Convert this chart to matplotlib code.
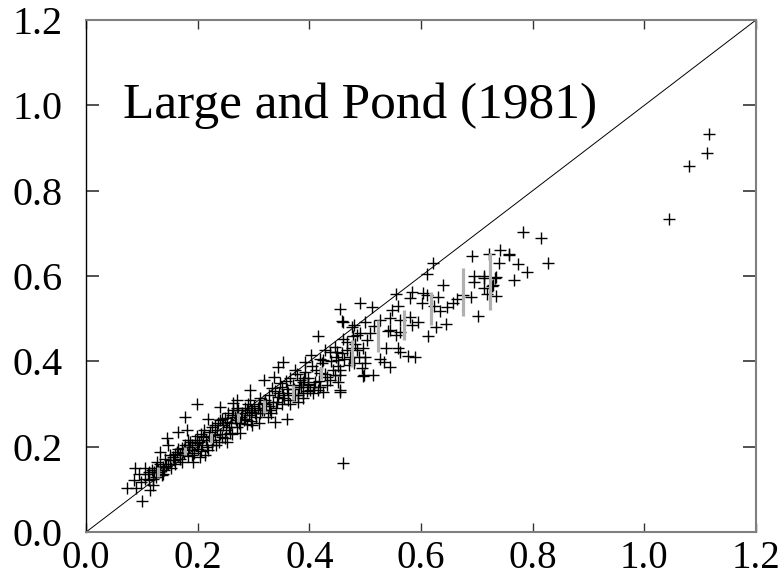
import matplotlib
matplotlib.use("Agg")
import matplotlib.pyplot as plt

plt.rcParams['font.family'] = ['Liberation Serif', 'DejaVu Serif']

# --- scatter points ---
pts_x = [
    0.073, 0.085, 0.088, 0.090, 0.098, 0.100, 0.106, 0.112, 0.115, 0.119, 0.121, 0.125, 0.127, 0.133,
    0.136, 0.138, 0.145, 0.147, 0.147, 0.150, 0.159, 0.165, 0.171, 0.177, 0.180, 0.183, 0.189, 0.189,
    0.192, 0.198, 0.198, 0.204, 0.210, 0.213, 0.219, 0.219, 0.222, 0.228, 0.231, 0.240, 0.240, 0.243,
    0.252, 0.255, 0.258, 0.264, 0.270, 0.276, 0.282, 0.297, 0.094,
    0.110, 0.118, 0.125, 0.130, 0.140, 0.142, 0.155, 0.160, 0.165, 0.168, 0.175, 0.178, 0.185, 0.195,
    0.200, 0.205, 0.208, 0.215, 0.225, 0.230, 0.235, 0.238, 0.245, 0.248, 0.250, 0.260, 0.262, 0.268,
    0.272, 0.278, 0.285, 0.288, 0.292, 0.295, 0.300, 0.305, 0.310, 0.315, 0.320, 0.325, 0.328, 0.335,
    0.340, 0.345, 0.350, 0.355, 0.360, 0.365, 0.370, 0.375, 0.380, 0.385, 0.390, 0.395,
    0.460, 0.479, 0.416, 0.485, 0.353, 0.344, 0.403, 0.428, 0.449, 0.392, 0.419, 0.318, 0.336, 0.294,
    0.374, 0.455, 0.455, 0.437, 0.407, 0.380, 0.362, 0.344, 0.333, 0.359, 0.339, 0.309, 0.276, 0.398,
    0.419, 0.383, 0.350, 0.318, 0.294, 0.270, 0.264, 0.288, 0.312, 0.330, 0.497, 0.496, 0.499,
    0.692, 0.621, 0.610, 0.640, 0.664, 0.658, 0.702, 0.631, 0.610, 0.601, 0.624, 0.634, 0.646, 0.644,
    0.627, 0.613, 0.556, 0.583, 0.580, 0.604, 0.491, 0.454, 0.512, 0.548, 0.558, 0.459, 0.476, 0.527,
    0.545, 0.562, 0.580, 0.595, 0.583, 0.545, 0.556, 0.562, 0.540, 0.516, 0.500, 0.461, 0.491, 0.509,
    0.503, 0.537, 0.559, 0.562, 0.577, 0.589, 0.533, 0.545, 0.527, 0.496, 0.514, 0.476, 0.485, 0.488,
    0.500, 0.479, 0.494, 0.467, 0.446, 0.437, 0.425, 0.452, 0.455, 0.446, 0.431, 0.452, 0.455, 0.419,
    0.410, 0.398, 0.389, 0.401, 0.416, 0.425, 0.389, 0.471,
    0.694, 0.713, 0.734, 0.695, 0.728, 0.676, 0.689, 0.758, 0.783, 0.814, 0.827, 0.742, 0.758, 0.721,
    0.740, 0.774, 0.789, 0.767, 0.713, 0.733, 0.712, 0.727, 0.718, 0.734,
    1.116, 1.113, 1.080, 1.045, 0.460,
    # dense core
    0.105, 0.112, 0.120, 0.128, 0.132, 0.138, 0.143, 0.150, 0.152, 0.157, 0.162, 0.168, 0.172, 0.176,
    0.182, 0.186, 0.190, 0.194, 0.198,
    0.202, 0.206, 0.212, 0.216, 0.220, 0.226, 0.232, 0.236, 0.240, 0.244, 0.248, 0.252, 0.256, 0.262,
    0.266, 0.270, 0.274, 0.280, 0.284, 0.290, 0.296, 0.298,
    0.302, 0.308, 0.312, 0.318, 0.322, 0.328, 0.332, 0.338, 0.342, 0.348, 0.352, 0.358, 0.362, 0.366,
    0.372, 0.378, 0.382, 0.388, 0.392, 0.398, 0.404, 0.408, 0.412, 0.418, 0.422, 0.428, 0.432, 0.438,
    0.442, 0.448, 0.452, 0.458, 0.462, 0.468, 0.472, 0.478, 0.482,
]
pts_y = [
    0.102, 0.122, 0.149, 0.102, 0.118, 0.073, 0.149, 0.122, 0.098, 0.110, 0.141, 0.130, 0.165, 0.188,
    0.134, 0.153, 0.220, 0.204, 0.160, 0.169, 0.184, 0.235, 0.196, 0.270, 0.239, 0.216, 0.192, 0.180,
    0.165, 0.300, 0.208, 0.176, 0.223, 0.180, 0.192, 0.266, 0.235, 0.216, 0.251, 0.262, 0.294, 0.223,
    0.212, 0.278, 0.231, 0.302, 0.247, 0.231, 0.262, 0.286, 0.135,
    0.135, 0.145, 0.150, 0.140, 0.145, 0.170, 0.175, 0.160, 0.195, 0.170, 0.185, 0.205, 0.200, 0.215,
    0.195, 0.230, 0.205, 0.215, 0.205, 0.228, 0.240, 0.210, 0.250, 0.268, 0.240, 0.255, 0.275, 0.262,
    0.285, 0.270, 0.290, 0.252, 0.275, 0.260, 0.295, 0.270, 0.300, 0.285, 0.310, 0.270, 0.295, 0.305,
    0.290, 0.325, 0.300, 0.315, 0.335, 0.300, 0.345, 0.320, 0.305, 0.340, 0.360, 0.330,
    0.493, 0.485, 0.460, 0.462, 0.399, 0.387, 0.415, 0.427, 0.423, 0.399, 0.405, 0.356, 0.364, 0.333,
    0.380, 0.368, 0.333, 0.356, 0.325, 0.321, 0.309, 0.317, 0.337, 0.266, 0.258, 0.255, 0.255, 0.344,
    0.341, 0.356, 0.341, 0.302, 0.309, 0.309, 0.286, 0.286, 0.278, 0.286, 0.368, 0.431, 0.410,
    0.647, 0.630, 0.605, 0.580, 0.545, 0.536, 0.507, 0.551, 0.555, 0.536, 0.530, 0.518, 0.528, 0.487,
    0.480, 0.460, 0.557, 0.563, 0.548, 0.559, 0.537, 0.523, 0.527, 0.520, 0.530, 0.495, 0.480, 0.497,
    0.501, 0.497, 0.505, 0.493, 0.485, 0.473, 0.462, 0.469, 0.472, 0.483, 0.493, 0.452, 0.466, 0.466,
    0.450, 0.431, 0.431, 0.423, 0.412, 0.411, 0.399, 0.387, 0.405, 0.366, 0.368, 0.431, 0.427, 0.411,
    0.395, 0.395, 0.384, 0.427, 0.434, 0.423, 0.403, 0.403, 0.380, 0.368, 0.364, 0.352, 0.329, 0.372,
    0.352, 0.348, 0.352, 0.333, 0.333, 0.329, 0.325, 0.392,
    0.600, 0.600, 0.598, 0.585, 0.580, 0.555, 0.551, 0.649, 0.704, 0.690, 0.631, 0.661, 0.651, 0.652,
    0.630, 0.627, 0.610, 0.591, 0.596, 0.596, 0.573, 0.577, 0.558, 0.554,
    0.932, 0.888, 0.858, 0.734, 0.162,
    # dense core
    0.125, 0.140, 0.125, 0.145, 0.160, 0.135, 0.155, 0.180, 0.150, 0.168, 0.188, 0.180, 0.165, 0.195,
    0.178, 0.210, 0.205, 0.185, 0.225,
    0.210, 0.190, 0.240, 0.200, 0.225, 0.245, 0.205, 0.255, 0.230, 0.265, 0.220, 0.258, 0.245, 0.230,
    0.270, 0.290, 0.255, 0.280, 0.265, 0.300, 0.282, 0.250,
    0.280, 0.290, 0.315, 0.285, 0.300, 0.320, 0.278, 0.330, 0.305, 0.350, 0.320, 0.355, 0.325, 0.360,
    0.335, 0.370, 0.340, 0.315, 0.375, 0.360, 0.390, 0.340, 0.380, 0.355, 0.395, 0.370, 0.345, 0.400,
    0.380, 0.410, 0.390, 0.420, 0.405, 0.445, 0.410, 0.460, 0.440,
]

# --- grey bars (binned spread) ---
bar_x = [0.129, 0.177, 0.224, 0.272, 0.319, 0.370, 0.421, 0.476, 0.523, 0.570, 0.618, 0.675, 0.724]
bar_lo = [0.129, 0.180, 0.209, 0.258, 0.279, 0.310, 0.356, 0.387, 0.422, 0.450, 0.485, 0.506, 0.520]
bar_hi = [0.152, 0.199, 0.232, 0.279, 0.309, 0.345, 0.387, 0.450, 0.497, 0.520, 0.562, 0.619, 0.654]

ticks = [0.0, 0.2, 0.4, 0.6, 0.8, 1.0, 1.2]
tick_labels = ["0.0", "0.2", "0.4", "0.6", "0.8", "1.0", "1.2"]

fig = plt.figure(figsize=(7.83, 5.81), dpi=100)
ax = fig.add_axes([0.110, 0.0843, 0.8555, 0.8813])

ax.plot([0, 1.2], [0, 1.2], color="black", lw=0.7, zorder=1)
ax.scatter(pts_x, pts_y, marker="+", s=64, c="black", linewidths=1.0, zorder=2)
ax.vlines(bar_x, bar_lo, bar_hi, colors="#b0b0b0", lw=2.3, zorder=3)

ax.text(0.066, 0.970, "Large and Pond (1981)", fontsize=37, va="baseline", ha="left")

ax.set_xlim(0, 1.2)
ax.set_ylim(0, 1.2)
ax.set_xticks(ticks)
ax.set_xticklabels(tick_labels)
ax.set_yticks(ticks)
ax.set_yticklabels(tick_labels)

for side in ["top", "right", "bottom"]:
    ax.spines[side].set_color("#7f7f7f")
    ax.spines[side].set_linewidth(1.5)
ax.spines["left"].set_color("black")
ax.spines["left"].set_linewidth(1.0)

ax.tick_params(axis="y", direction="in", length=9.5, width=1.2, color="#333333",
               labelsize=29, pad=17, right=True)
ax.tick_params(axis="x", direction="in", length=6.5, width=1.0, color="#333333",
               labelsize=28, pad=6)
ax.tick_params(axis="x", which="major", top=True)

fig.savefig("out.png", dpi=100)
